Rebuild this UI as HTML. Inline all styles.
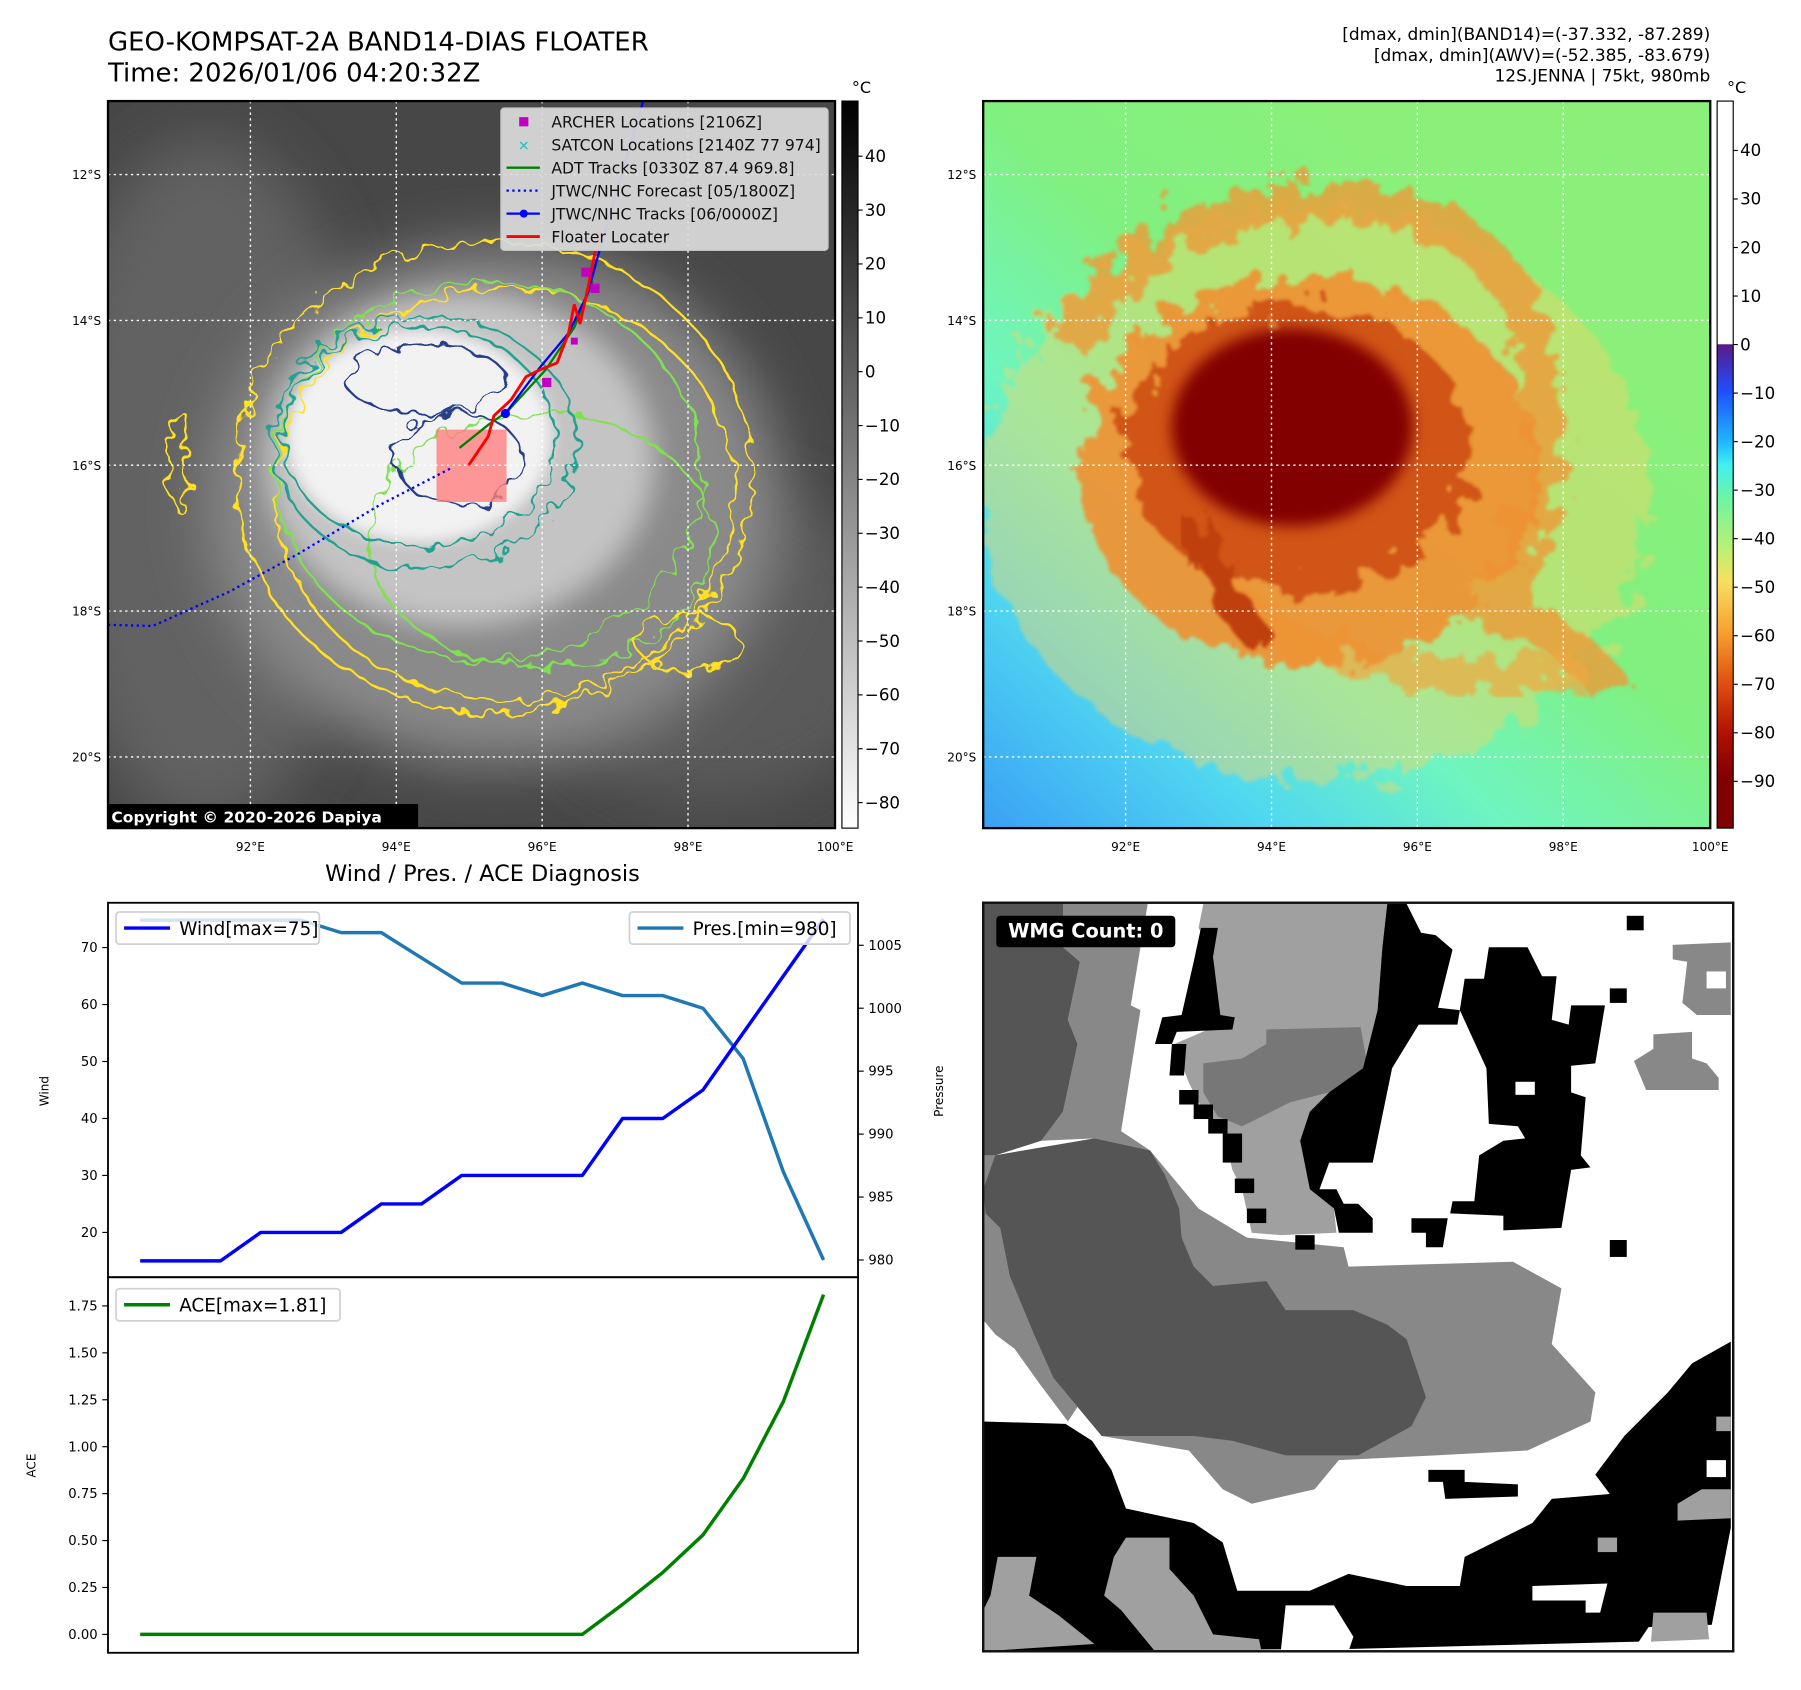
<!DOCTYPE html>
<html><head><meta charset="utf-8"><style>
html,body{margin:0;padding:0;background:#fff}
svg{display:block;font-family:"DejaVu Sans","Liberation Sans",sans-serif}
</style></head><body>
<svg id="fig" width="1801" height="1690" viewBox="0 0 1568 1471.4" xmlns="http://www.w3.org/2000/svg">
<defs>
 <filter id="b25" x="-50%" y="-50%" width="200%" height="200%"><feGaussianBlur stdDeviation="25"/></filter>
 <filter id="b12" x="-50%" y="-50%" width="200%" height="200%"><feGaussianBlur stdDeviation="12"/></filter>
 <filter id="b6" x="-50%" y="-50%" width="200%" height="200%"><feGaussianBlur stdDeviation="6"/></filter>
 <filter id="rag" x="-20%" y="-20%" width="140%" height="140%"><feTurbulence type="fractalNoise" baseFrequency="0.06" numOctaves="2" seed="3"/><feDisplacementMap in="SourceGraphic" scale="22"/></filter>
 <filter id="rag2" x="-20%" y="-20%" width="140%" height="140%"><feTurbulence type="fractalNoise" baseFrequency="0.05" numOctaves="3" seed="7"/><feDisplacementMap in="SourceGraphic" scale="50"/><feGaussianBlur stdDeviation="1.5"/></filter>
 <clipPath id="c1"><rect x="94" y="88" width="633" height="633"/></clipPath>
 <clipPath id="c2"><rect x="856" y="88" width="633" height="633"/></clipPath>
 <linearGradient id="cb1" x1="0" y1="0" x2="0" y2="1"><stop offset="0" stop-color="#000"/><stop offset="1" stop-color="#fff"/></linearGradient>
 <linearGradient id="cb2" x1="0" y1="0" x2="0" y2="1">
  <stop offset="0" stop-color="#fff"/><stop offset="0.334" stop-color="#fff"/>
  <stop offset="0.335" stop-color="#5a1a8a"/><stop offset="0.40" stop-color="#1e50ff"/>
  <stop offset="0.47" stop-color="#20b8ff"/><stop offset="0.50" stop-color="#40f0f0"/>
  <stop offset="0.55" stop-color="#70f5a0"/><stop offset="0.62" stop-color="#c0f070"/>
  <stop offset="0.66" stop-color="#f8e060"/><stop offset="0.73" stop-color="#f8a030"/>
  <stop offset="0.80" stop-color="#e05010"/><stop offset="0.87" stop-color="#b01000"/>
  <stop offset="0.93" stop-color="#800000"/><stop offset="1" stop-color="#800000"/></linearGradient>
 <linearGradient id="bg2" x1="0" y1="1" x2="0.7" y2="0.2"><stop offset="0" stop-color="#3aa0f5"/><stop offset="0.25" stop-color="#50d8f0"/><stop offset="0.45" stop-color="#6ef5c0"/><stop offset="0.7" stop-color="#80f080"/><stop offset="1" stop-color="#8af07a"/></linearGradient>
</defs>

<text x="94" y="44" font-size="22.6">GEO-KOMPSAT-2A BAND14-DIAS FLOATER</text>
<text x="94" y="71" font-size="22.6">Time: 2026/01/06 04:20:32Z</text>
<g font-size="14.8" text-anchor="end">
 <text x="1489" y="35">[dmax, dmin](BAND14)=(-37.332, -87.289)</text>
 <text x="1489" y="53">[dmax, dmin](AWV)=(-52.385, -83.679)</text>
 <text x="1489" y="71">12S.JENNA | 75kt, 980mb</text>
</g>

<!-- PANEL 1 -->
<g clip-path="url(#c1)">
 <rect x="94" y="88" width="633" height="633" fill="#474747"/>
 <ellipse cx="180" cy="420" rx="140" ry="300" fill="#626262" filter="url(#b25)"/>
 <ellipse cx="620" cy="560" rx="160" ry="140" fill="#5a5a5a" filter="url(#b25)"/>
 <ellipse cx="430" cy="440" rx="250" ry="225" fill="#8a8a8a" filter="url(#b25)"/>
 <ellipse cx="400" cy="400" rx="170" ry="145" fill="#c4c4c4" filter="url(#b12)"/>
 <ellipse cx="365" cy="380" rx="115" ry="92" fill="#f2f2f2" filter="url(#b6)"/>
 <g fill="none" stroke-width="2" filter="url(#rag)">
  <ellipse cx="430" cy="415" rx="225" ry="205" stroke="#ffe020"/>
  <ellipse cx="440" cy="430" rx="200" ry="180" stroke="#ffe020"/>
  <ellipse cx="425" cy="410" rx="185" ry="165" stroke="#80e050"/>
  <ellipse cx="470" cy="470" rx="150" ry="110" stroke="#80e050"/>
  <ellipse cx="370" cy="385" rx="132" ry="110" stroke="#20a090"/>
  <ellipse cx="365" cy="380" rx="118" ry="96" stroke="#20a090"/>
  <ellipse cx="370" cy="330" rx="70" ry="30" stroke="#283c88"/>
  <ellipse cx="400" cy="400" rx="55" ry="40" stroke="#283c88"/>
  <ellipse cx="155" cy="400" rx="8" ry="45" stroke="#ffe020"/>
  <ellipse cx="600" cy="560" rx="45" ry="25" stroke="#ffe020"/>
 </g>
 <rect x="380" y="374" width="61" height="63" fill="#ff8080" opacity="0.8"/>
 <g stroke="#fff" stroke-width="1.2" stroke-dasharray="2,3">
  <line x1="218" y1="88" x2="218" y2="721"/><line x1="345" y1="88" x2="345" y2="721"/><line x1="472" y1="88" x2="472" y2="721"/><line x1="599" y1="88" x2="599" y2="721"/>
  <line x1="94" y1="152" x2="727" y2="152"/><line x1="94" y1="279" x2="727" y2="279"/><line x1="94" y1="405" x2="727" y2="405"/><line x1="94" y1="532" x2="727" y2="532"/><line x1="94" y1="659" x2="727" y2="659"/>
 </g>
 <path d="M94,544 L133,545 L200,515 L260,482 L330,440 L392,408" fill="none" stroke="#0000ff" stroke-width="2" stroke-dasharray="2,3"/>
 <path d="M400,390 L425,370 L442,358 L475,322 L500,285 L516,245" fill="none" stroke="#008000" stroke-width="2"/>
 <path d="M440,360 L470,320 L495,290 L512,255 L520,225 L560,88" fill="none" stroke="#0000ff" stroke-width="2"/>
 <circle cx="440" cy="360" r="4" fill="#0000ff"/>
 <path d="M408,405 L425,380 L430,362 L445,348 L458,328 L470,322 L485,316 L495,290 L500,265 L505,282 L512,250 L518,220 L522,200" fill="none" stroke="#ff0000" stroke-width="2.5"/>
 <g fill="#c000c0"><rect x="506" y="233" width="8" height="8"/><rect x="514" y="247" width="8" height="8"/><rect x="472" y="329" width="8" height="8"/><rect x="497" y="294" width="6" height="6"/></g>
</g>
<rect x="94" y="88" width="633" height="633" fill="none" stroke="#000" stroke-width="2"/>
<g>
 <rect x="436" y="94" width="285" height="124" rx="3" fill="#dcdcdc" opacity="0.92" stroke="#ccc"/>
 <rect x="452" y="102" width="8" height="8" fill="#c000c0"/>
 <text x="451" y="131" font-size="12" fill="#20c0c0" font-weight="bold">✕</text>
 <line x1="441" y1="146" x2="470" y2="146" stroke="#008000" stroke-width="2"/>
 <line x1="441" y1="166" x2="470" y2="166" stroke="#0000ff" stroke-width="2" stroke-dasharray="2,3"/>
 <line x1="441" y1="186" x2="470" y2="186" stroke="#0000ff" stroke-width="2"/><circle cx="456" cy="186" r="3.5" fill="#0000ff"/>
 <line x1="441" y1="206" x2="470" y2="206" stroke="#ff0000" stroke-width="2.5"/>
 <g font-size="13.6" fill="#111">
  <text x="480" y="111">ARCHER Locations [2106Z]</text>
  <text x="480" y="131">SATCON Locations [2140Z 77 974]</text>
  <text x="480" y="151">ADT Tracks [0330Z 87.4 969.8]</text>
  <text x="480" y="171">JTWC/NHC Forecast [05/1800Z]</text>
  <text x="480" y="191">JTWC/NHC Tracks [06/0000Z]</text>
  <text x="480" y="211">Floater Locater</text>
 </g>
</g>
<g>
 <rect x="94" y="700" width="270" height="21" fill="#000"/>
 <text x="97" y="716" font-size="13.5" font-weight="bold" fill="#fff">Copyright © 2020-2026 Dapiya</text>
</g>
<g font-size="10.5" fill="#000">
 <g text-anchor="end"><text x="88" y="156">12°S</text><text x="88" y="283">14°S</text><text x="88" y="409">16°S</text><text x="88" y="536">18°S</text><text x="88" y="663">20°S</text></g>
 <g text-anchor="middle"><text x="218" y="741">92°E</text><text x="345" y="741">94°E</text><text x="472" y="741">96°E</text><text x="599" y="741">98°E</text><text x="727" y="741">100°E</text></g>
</g>
<g>
 <rect x="733" y="88" width="14" height="633" fill="url(#cb1)" stroke="#000" stroke-width="1"/>
 <text x="750" y="81" font-size="14" text-anchor="middle">°C</text>
 <g id="cb1t" font-size="14.5"></g>
</g>

<!-- PANEL 2 -->
<g clip-path="url(#c2)">
 <rect x="856" y="88" width="633" height="633" fill="url(#bg2)"/>
 <ellipse cx="1145" cy="430" rx="290" ry="250" fill="#f3d66a" opacity="0.45" filter="url(#rag2)"/>
 <path d="M930,300 Q1000,170 1180,175 Q1320,190 1340,320 Q1360,440 1300,530 Q1380,560 1400,600" fill="none" stroke="#ee9a38" stroke-width="34" opacity="0.8" filter="url(#rag2)"/>
 <path d="M1060,510 Q1150,600 1380,590" fill="none" stroke="#f0a840" stroke-width="30" opacity="0.7" filter="url(#rag2)"/>
 <ellipse cx="1140" cy="410" rx="200" ry="170" fill="#f09030" opacity="0.9" filter="url(#rag2)"/>
 <ellipse cx="1130" cy="390" rx="150" ry="125" fill="#d05515" filter="url(#rag2)"/>
 <ellipse cx="1125" cy="372" rx="105" ry="86" fill="#820000" filter="url(#b6)"/>
 <path d="M1040,450 Q1060,520 1100,560" fill="none" stroke="#c04010" stroke-width="26" filter="url(#rag2)"/>
 <g stroke="#fff" stroke-width="1.2" stroke-dasharray="2,3">
  <line x1="980" y1="88" x2="980" y2="721"/><line x1="1107" y1="88" x2="1107" y2="721"/><line x1="1234" y1="88" x2="1234" y2="721"/><line x1="1361" y1="88" x2="1361" y2="721"/>
  <line x1="856" y1="152" x2="1489" y2="152"/><line x1="856" y1="279" x2="1489" y2="279"/><line x1="856" y1="405" x2="1489" y2="405"/><line x1="856" y1="532" x2="1489" y2="532"/><line x1="856" y1="659" x2="1489" y2="659"/>
 </g>
</g>
<rect x="856" y="88" width="633" height="633" fill="none" stroke="#000" stroke-width="2"/>
<g font-size="10.5" fill="#000">
 <g text-anchor="end"><text x="850" y="156">12°S</text><text x="850" y="283">14°S</text><text x="850" y="409">16°S</text><text x="850" y="536">18°S</text><text x="850" y="663">20°S</text></g>
 <g text-anchor="middle"><text x="980" y="741">92°E</text><text x="1107" y="741">94°E</text><text x="1234" y="741">96°E</text><text x="1361" y="741">98°E</text><text x="1489" y="741">100°E</text></g>
</g>
<g>
 <rect x="1495" y="88" width="14" height="633" fill="url(#cb2)" stroke="#000" stroke-width="1"/>
 <text x="1512" y="81" font-size="14" text-anchor="middle">°C</text>
 <g id="cb2t" font-size="14.5"></g>
</g>

<!-- PANEL 3 chart -->
<text x="420" y="767" font-size="19.5" text-anchor="middle">Wind / Pres. / ACE Diagnosis</text>
<g id="chart"></g>

<!-- PANEL 4 -->
<svg x="853.9" y="782.6" width="657.2" height="657.2" viewBox="0 0 1560 1560">
 <rect x="5" y="10" width="1547" height="1545" fill="#fff"/>
 <g fill="#888">
  <polygon points="350,520 450,640 550,700 750,720 760,760 1100,750 1200,805 1180,920 1270,1020 1260,1080 1130,1140 940,1150 740,1160 690,1220 560,1250 500,1220 430,1140 250,1110 200,1050 150,990 110,900 60,780 40,680 30,530 235,495"/>
  <polygon points="170,10 345,10 330,100 310,220 330,230 290,480 350,520 235,495 125,500 170,440 200,300 180,250 205,130 170,100"/>
  <polygon points="5,530 30,530 40,680 60,780 110,900 150,990 200,1050 180,1080 120,1000 70,930 30,900 5,870"/>
  <polygon points="1430,95 1550,90 1550,240 1480,240 1450,215 1460,130 1430,125"/>
  <polygon points="1390,280 1470,275 1470,330 1500,340 1525,370 1525,395 1375,395 1350,335 1390,310"/>
 </g>
 <g fill="#555">
  <polygon points="5,10 170,10 170,100 205,130 180,250 200,300 170,440 125,500 30,530 5,530"/>
  <polygon points="30,530 235,495 350,520 380,570 410,640 415,700 440,760 480,800 590,790 630,850 770,850 840,880 880,910 920,1030 890,1090 780,1150 630,1150 520,1120 440,1110 250,1110 200,1050 150,990 110,900 60,780 40,680 10,650 5,600"/>
 </g>
 <polygon fill="#a0a0a0" points="460,10 840,10 830,100 820,230 790,350 720,400 680,440 660,500 680,600 730,640 735,690 620,695 560,690 540,600 520,560 500,480 460,440 430,380 400,300 470,270 520,250 490,240 480,120 450,60"/>
 <polygon fill="#777" points="590,270 785,265 800,350 720,400 640,420 600,440 560,460 540,470 490,450 460,400 460,340 540,330 590,300"/>
 <g fill="#000">
  <polygon points="455,60 490,60 480,120 495,240 525,245 520,270 405,275 395,300 360,300 375,245 415,240 440,130"/>
  <polygon points="395,300 425,300 420,365 390,365"/>
  <rect x="410" y="395" width="40" height="30"/><rect x="440" y="425" width="40" height="30"/><rect x="470" y="455" width="40" height="30"/><rect x="500" y="485" width="40" height="60"/><rect x="525" y="578" width="40" height="30"/><rect x="550" y="640" width="40" height="30"/><rect x="650" y="695" width="40" height="30"/>
  <polygon points="840,10 880,10 910,70 940,75 975,105 945,225 990,230 985,260 905,260 850,350 810,545 720,545 700,600 735,600 750,630 780,630 810,660 810,690 740,690 730,640 680,600 660,500 680,440 720,400 790,350 820,230 830,100"/>
  <polygon points="1050,100 1130,100 1160,160 1190,160 1180,250 1215,260 1220,220 1290,220 1270,340 1220,345 1220,400 1250,410 1240,530 1260,555 1220,560 1200,680 1080,685 1080,655 970,650 975,625 1020,625 1030,530 1080,500 1125,495 1110,470 1050,465 1045,350 990,230 1000,165 1040,165"/>
  <rect x="1335" y="35" width="35" height="30"/><rect x="1300" y="185" width="35" height="30"/><rect x="1300" y="705" width="35" height="35"/>
  <polygon points="890,660 965,660 955,720 920,720 920,690 890,690"/>
  <polygon points="925,1180 1000,1180 1000,1205 1110,1210 1110,1235 960,1240 955,1205 925,1205"/>
  <polygon points="5,1080 175,1085 230,1120 270,1180 300,1260 440,1290 500,1330 530,1430 680,1430 760,1395 880,1420 990,1420 1000,1360 1140,1290 1180,1240 1300,1230 1270,1190 1330,1110 1420,1020 1470,960 1550,915 1550,1300 1520,1500 1380,1505 1360,1535 770,1550 5,1555"/>
 </g>
 <g fill="#fff">
  <rect x="1105" y="378" width="40" height="27"/><rect x="1500" y="150" width="40" height="35"/><rect x="1500" y="1160" width="40" height="35"/>
  <polygon points="630,1460 730,1460 770,1525 760,1555 620,1555"/>
  <polygon points="1140,1420 1295,1415 1280,1475 1250,1475 1250,1450 1140,1450"/>
  <polygon points="1550,1300 1555,1555 1500,1555"/>
 </g>
 <g fill="#a0a0a0">
  <polygon points="35,1360 115,1360 100,1440 160,1480 235,1540 5,1555 5,1470 20,1440"/>
  <polygon points="300,1320 390,1320 390,1385 440,1440 480,1520 575,1530 580,1555 360,1555 290,1470 255,1440 275,1360"/>
  <polygon points="1390,1475 1500,1475 1505,1530 1385,1535"/>
  <polygon points="1440,1250 1490,1220 1550,1220 1550,1280 1440,1285"/>
  <rect x="1275" y="1320" width="40" height="30"/><rect x="1520" y="1070" width="30" height="30"/>
 </g>
 <rect x="5" y="8" width="1550" height="1547" fill="none" stroke="#111" stroke-width="5"/>
 <rect x="32" y="35" width="370" height="65" rx="8" fill="#000"/>
 <text x="217" y="80" font-size="40" font-weight="bold" fill="#fff" text-anchor="middle">WMG Count: 0</text>
</svg>
</svg>

<script>
// ---- chart data ----
const steps = [0,1,2,3,4,5,6,7,8,9,10,11,12,13,14,15,16,17];
const windVals = [15,15,15,20,20,20,25,25,30,30,30,30,40,40,45,55,65,75];
const presVals = [1007,1007,1007,1007,1007,1006,1006,1004,1002,1002,1001,1002,1001,1001,1000,996,987,980];
const aceVals = [0,0,0,0,0,0,0,0,0,0,0,0,0.16,0.33,0.53,0.83,1.24,1.81];
const windTicks = [20,30,40,50,60,70];
const presTicks = [980,985,990,995,1000,1005];
const aceTicks = [0,0.25,0.5,0.75,1.0,1.25,1.5,1.75];
const cb1Ticks = [40,30,20,10,0,-10,-20,-30,-40,-50,-60,-70,-80];
const cb2Ticks = [40,30,20,10,0,-10,-20,-30,-40,-50,-60,-70,-80,-90];

const NS = "http://www.w3.org/2000/svg";
const L = 94, R = 747, T1 = 786, M = 1112, B = 1439;
function xS(i){ return 122 + (717-122)*i/17; }
function yW(v){ return 825 + (70-v)*(1073-825)/50; }
function yP(p){ return 823 + (1005-p)*(1097-823)/25; }
function yA(a){ return 1423 - a*(1423-1137)/1.75; }
function el(tag, attrs, parent){ const e=document.createElementNS(NS,tag); for(const k in attrs) e.setAttribute(k,attrs[k]); parent.appendChild(e); return e; }
function fmtMinus(v){ return String(v).replace('-', '\u2212'); }

const chart = document.getElementById('chart');
el('rect',{x:L,y:T1,width:R-L,height:B-T1,fill:'#fff'},chart);

function line(vals, fx, fy, color, w, name){
  const d = vals.map((v,i)=>(i?'L':'M')+fx(steps[i]).toFixed(1)+','+fy(v).toFixed(1)).join(' ');
  const p = el('path',{d:d,fill:'none',stroke:color,'stroke-width':w,'stroke-linejoin':'round'},chart);
  
  
}
line(presVals, xS, yP, '#1f77b4', 3, 'pressure-line');
line(windVals, xS, yW, '#0000ff', 3, 'wind-line');
line(aceVals, xS, yA, '#008000', 3, 'ace-line');

el('rect',{x:L,y:T1,width:R-L,height:M-T1,fill:'none',stroke:'#000','stroke-width':1.6},chart);
el('rect',{x:L,y:M,width:R-L,height:B-M,fill:'none',stroke:'#000','stroke-width':1.6},chart);

windTicks.forEach(v=>{
  const y=yW(v);
  el('line',{x1:L-5,y1:y,x2:L,y2:y,stroke:'#000'},chart);
  const t=el('text',{x:L-9,y:y+4,'font-size':11.5,'text-anchor':'end'},chart); t.textContent=v;
  
  
});
presTicks.forEach(v=>{
  const y=yP(v);
  el('line',{x1:R,y1:y,x2:R+5,y2:y,stroke:'#000'},chart);
  const t=el('text',{x:R+9,y:y+4,'font-size':11.5},chart); t.textContent=v;
  
  
});
aceTicks.forEach(v=>{
  const y=yA(v);
  el('line',{x1:L-5,y1:y,x2:L,y2:y,stroke:'#000'},chart);
  const t=el('text',{x:L-9,y:y+4,'font-size':11.5,'text-anchor':'end'},chart); t.textContent=v.toFixed(2);
  
  
});
let t;
t=el('text',{x:0,y:0,'font-size':10.5,'text-anchor':'middle',transform:'translate(42,950) rotate(-90)'},chart); t.textContent='Wind';


t=el('text',{x:0,y:0,'font-size':10.5,'text-anchor':'middle',transform:'translate(821,950) rotate(-90)'},chart); t.textContent='Pressure';


t=el('text',{x:0,y:0,'font-size':10.5,'text-anchor':'middle',transform:'translate(31,1276) rotate(-90)'},chart); t.textContent='ACE';



function legend(x,y,w,color,label,name){
  const g=el('g',{},chart);
  
  
  el('rect',{x:x,y:y,width:w,height:28,rx:3,fill:'#fff','fill-opacity':0.8,stroke:'#d0d0d0','stroke-width':1.5},g);
  el('line',{x1:x+7,y1:y+14,x2:x+47,y2:y+14,stroke:color,'stroke-width':3},g);
  const tt=el('text',{x:x+55,y:y+20,'font-size':16},g); tt.textContent=label;
}
legend(101,794,177,'#0000ff','Wind[max=75]','wind-legend');
legend(548,794,192,'#1f77b4','Pres.[min=980]','pressure-legend');
legend(101,1122,195,'#008000','ACE[max=1.81]','ace-legend');

const cb1=document.getElementById('cb1t');
cb1Ticks.forEach(v=>{
  const y=136+(40-v)*4.69;
  el('line',{x1:747,y1:y,x2:751,y2:y,stroke:'#000'},cb1);
  const tx=el('text',{x:753,y:y+5},cb1); tx.textContent=fmtMinus(v);
  
  
});
const cb2=document.getElementById('cb2t');
cb2Ticks.forEach(v=>{
  const y=131+(40-v)*4.225;
  el('line',{x1:1509,y1:y,x2:1513,y2:y,stroke:'#000'},cb2);
  const tx=el('text',{x:1515,y:y+5},cb2); tx.textContent=fmtMinus(v);
  
  
});
</script>
</body></html>
